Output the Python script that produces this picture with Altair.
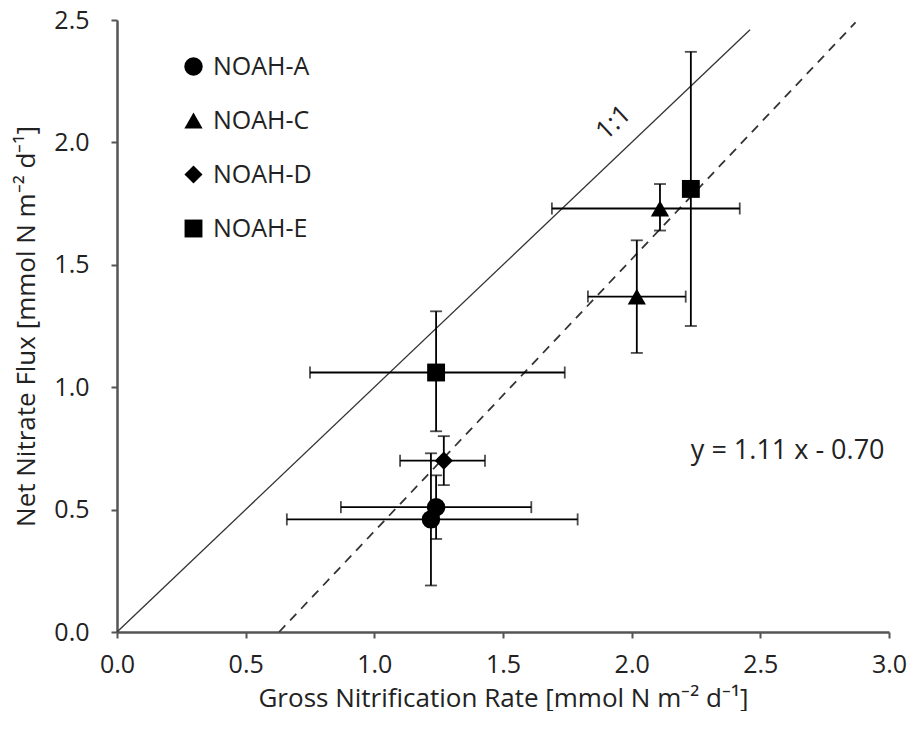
import altair as alt
import pandas as pd

# ---- data ----
site = ["NOAH-A", "NOAH-A", "NOAH-C", "NOAH-C", "NOAH-D", "NOAH-E", "NOAH-E"]
gnr = [1.24, 1.22, 2.02, 2.11, 1.27, 1.24, 2.23]          # gross nitrification rate
gnr_lo = [0.87, 0.66, 1.83, 1.69, 1.10, 0.75, None]
gnr_hi = [1.61, 1.79, 2.21, 2.42, 1.43, 1.74, None]
nnf = [0.51, 0.46, 1.37, 1.73, 0.70, 1.06, 1.81]          # net nitrate flux
nnf_lo = [0.38, 0.19, 1.14, 1.64, 0.60, 0.82, 1.25]
nnf_hi = [0.64, 0.73, 1.60, 1.83, 0.80, 1.31, 2.37]

sites = ["NOAH-A", "NOAH-C", "NOAH-D", "NOAH-E"]
shapes = ["circle", "triangle-up", "diamond", "square"]
sizes = [340, 320, 180, 330]

one_x = [0.0, 2.46]
one_y = [0.0, 2.46]
fit_x = [0.63, 2.87]
fit_y = [0.0, 2.49]

x_ticks = [0, 0.5, 1.0, 1.5, 2.0, 2.5, 3.0]
y_ticks = [0, 0.5, 1.0, 1.5, 2.0, 2.5]

FONT = "Open Sans"
W, H = 772, 612

df = pd.DataFrame(dict(site=site, gnr=gnr, gnr_lo=gnr_lo, gnr_hi=gnr_hi,
                       nnf=nnf, nnf_lo=nnf_lo, nnf_hi=nnf_hi))
dfh = df.dropna(subset=["gnr_lo"])

xs = alt.Scale(domain=[0, 3], nice=False)
ys = alt.Scale(domain=[0, 2.5], nice=False)

X = alt.X("gnr:Q", scale=xs,
          axis=alt.Axis(values=x_ticks, format=".1f", grid=False, labelFlush=False,
                        title="Gross Nitrification Rate [mmol N m\u207b\u00b2 d\u207b\u00b9]"))
Y = alt.Y("nnf:Q", scale=ys,
          axis=alt.Axis(values=y_ticks, format=".1f", grid=False, labelFlush=False,
                        title="Net Nitrate Flux [mmol N m\u207b\u00b2 d\u207b\u00b9]"))

one_df = pd.DataFrame(dict(gnr=one_x, nnf=one_y))
fit_df = pd.DataFrame(dict(gnr=fit_x, nnf=fit_y))

one_line = alt.Chart(one_df).mark_line(color="#333", strokeWidth=1.3).encode(x=X, y=Y)
fit_line = alt.Chart(fit_df).mark_line(color="#333", strokeWidth=1.8,
                                       strokeDash=[9, 7]).encode(x=X, y=Y)

vbar = alt.Chart(df).mark_rule(color="black", strokeWidth=1.8).encode(
    x=X, y=alt.Y("nnf_lo:Q", scale=ys), y2="nnf_hi:Q")
vcap_lo = alt.Chart(df).mark_tick(color="black", orient="horizontal", size=12,
                                  thickness=1.8).encode(x=X, y=alt.Y("nnf_lo:Q", scale=ys))
vcap_hi = alt.Chart(df).mark_tick(color="black", orient="horizontal", size=12,
                                  thickness=1.8).encode(x=X, y=alt.Y("nnf_hi:Q", scale=ys))
hbar = alt.Chart(dfh).mark_rule(color="black", strokeWidth=1.8).encode(
    x=alt.X("gnr_lo:Q", scale=xs), x2="gnr_hi:Q", y=Y)
hcap_lo = alt.Chart(dfh).mark_tick(color="black", orient="vertical", size=12,
                                   thickness=1.8).encode(x=alt.X("gnr_lo:Q", scale=xs), y=Y)
hcap_hi = alt.Chart(dfh).mark_tick(color="black", orient="vertical", size=12,
                                   thickness=1.8).encode(x=alt.X("gnr_hi:Q", scale=xs), y=Y)

leg = alt.Legend(title=None, orient="none", legendX=64, legendY=34,
                 symbolFillColor="black", symbolStrokeColor="black",
                 symbolOpacity=1, labelFont=FONT, labelFontSize=25, labelColor="#222",
                 rowPadding=28, labelOffset=7, padding=0)

points = alt.Chart(df).mark_point(filled=True, color="black", opacity=1).encode(
    x=X, y=Y,
    shape=alt.Shape("site:N", scale=alt.Scale(domain=sites, range=shapes), legend=leg),
    size=alt.Size("site:N", scale=alt.Scale(domain=sites, range=sizes), legend=leg),
)

lab_df = pd.DataFrame(dict(gnr=[1.93], nnf=[2.08], t=["1:1"]))
lab = alt.Chart(lab_df).mark_text(font=FONT, fontSize=26, angle=317, color="#222").encode(
    x=X, y=Y, text="t:N")
eq_df = pd.DataFrame(dict(gnr=[2.23], nnf=[0.74], t=["y = 1.11 x - 0.70"]))
eq = alt.Chart(eq_df).mark_text(font=FONT, fontSize=27, align="left", baseline="middle",
                                color="#222").encode(x=X, y=Y, text="t:N")

chart = alt.layer(one_line, fit_line, hbar, hcap_lo, hcap_hi, vbar, vcap_lo, vcap_hi,
                  points, lab, eq).properties(
    width=W, height=H, padding={"left": 5, "top": 0, "right": 0, "bottom": 0}
).configure_view(stroke=None).configure_axis(
    labelFont=FONT, titleFont=FONT, labelFontSize=25, titleFontSize=26,
    labelColor="#222", titleColor="#222", titleFontWeight="normal",
    domainColor="#555", domainWidth=2.5, tickColor="#555", tickWidth=2, tickSize=6,
).configure_axisY(titlePadding=14, labelPadding=22).configure_axisX(
    titlePadding=8, labelPadding=14)

chart.save("out.html", embed_options={"renderer": "svg", "actions": False})
